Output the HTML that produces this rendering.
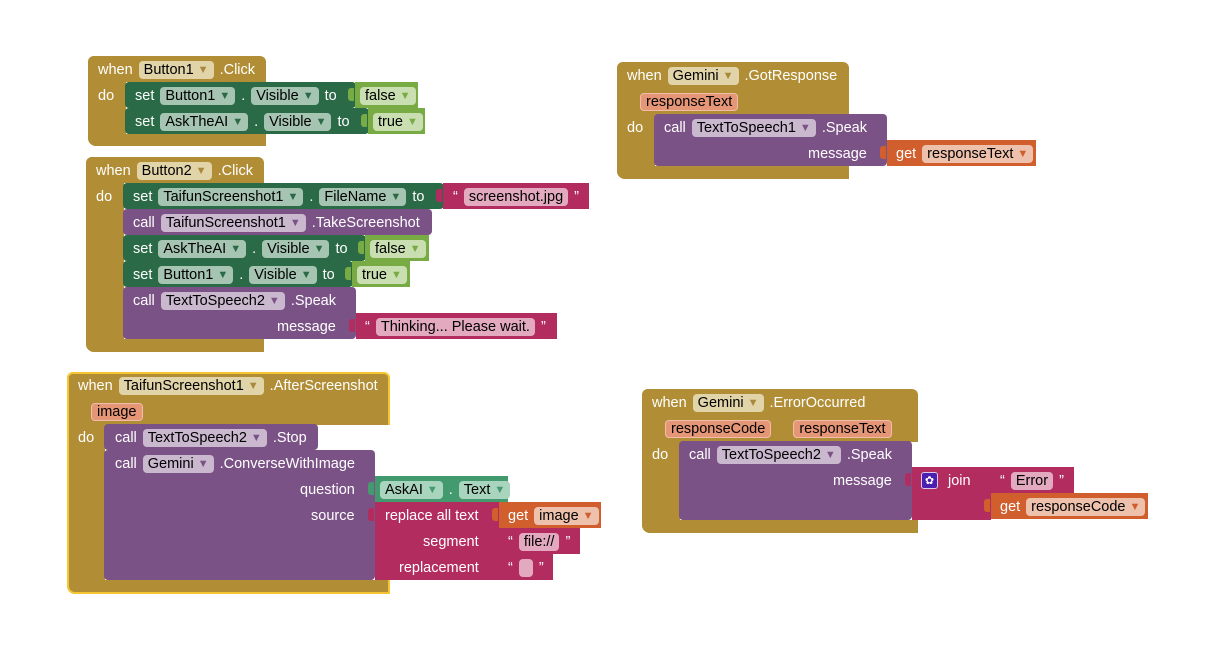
<!DOCTYPE html>
<html><head><meta charset="utf-8"><style>
body{margin:0;width:1212px;height:658px;background:#fff;position:relative;overflow:hidden;font-family:"Liberation Sans",sans-serif;}
.b{position:absolute;box-sizing:border-box;}
.g{background:#b18e35;border-radius:5px;}
.gr{background:#2a6a46;border-radius:4px;}
.lg{background:#78ab43;}
.p{background:#7b5286;border-radius:4px;}
.pk{background:#b22c5f;}
.o{background:#d05f2d;}
.t{background:#449a6f;}
.r{position:absolute;height:26px;padding-top:1px;box-sizing:border-box;display:flex;align-items:center;white-space:nowrap;color:#fff;font-size:14.5px;gap:6px;}
.f{color:#000;border-radius:4px;padding:0 5px;height:18px;line-height:18px;display:inline-flex;align-items:center;}
.f i{font-style:normal;font-size:11px;margin-left:4px;}
.fg{background:#e2d4a9}.fg i{color:#a8893a}
.fgr{background:#a6c4b2}.fgr i{color:#2a6a46}
.fp{background:#cab8ce}.fp i{color:#7b5286}
.fpk{background:#e2a9bf}
.fo{background:#edc1ac}.fo i{color:#d05f2d}
.flg{background:#c9dfb2}.flg i{color:#78ab43}
.ft{background:#a9d4bd}.ft i{color:#449a6f}
.prm{background:#e59677;border:1.5px solid #f2bda8;color:#000;border-radius:4px;padding:0 5px;height:16px;line-height:16px;display:inline-flex;align-items:center;}
.tab{position:absolute;width:6px;height:13px;border-radius:3px 0 0 3px;}
</style></head><body>

<!-- Block 1 -->
<div class="b g" style="left:88px;top:56px;width:178px;height:26px;border-radius:6px 6px 0 0"></div>
<div class="b g" style="left:88px;top:56px;width:38px;height:90px;border-radius:6px 0 0 8px"></div>
<div class="b g" style="left:88px;top:134px;width:178px;height:12px;border-radius:0 0 0 8px"></div>
<div class="r" style="left:98px;top:56px">when <span class="f fg">Button1<i>▼</i></span>.Click</div>
<div class="r" style="left:98px;top:82px">do</div>
<div class="b gr" style="left:125px;top:82px;width:231px;height:26px"></div>
<div class="b lg" style="left:355px;top:82px;width:63px;height:26px"></div>
<div class="tab" style="left:348px;top:88px;background:#78ab43"></div>
<div class="r" style="left:135px;top:82px">set <span class="f fgr">Button1<i>▼</i></span>.<span class="f fgr">Visible<i>▼</i></span> to</div>
<div class="r" style="left:360px;top:82px"><span class="f flg">false<i>▼</i></span></div>
<div class="b gr" style="left:125px;top:108px;width:244px;height:26px"></div>
<div class="b lg" style="left:368px;top:108px;width:57px;height:26px"></div>
<div class="tab" style="left:361px;top:114px;background:#78ab43"></div>
<div class="r" style="left:135px;top:108px">set <span class="f fgr">AskTheAI<i>▼</i></span>.<span class="f fgr">Visible<i>▼</i></span> to</div>
<div class="r" style="left:373px;top:108px"><span class="f flg">true<i>▼</i></span></div>

<!-- Block 2 -->
<div class="b g" style="left:86px;top:157px;width:178px;height:26px;border-radius:6px 6px 0 0"></div>
<div class="b g" style="left:86px;top:157px;width:38px;height:195px;border-radius:6px 0 0 8px"></div>
<div class="b g" style="left:86px;top:339px;width:178px;height:13px;border-radius:0 0 0 8px"></div>
<div class="r" style="left:96px;top:157px">when <span class="f fg">Button2<i>▼</i></span>.Click</div>
<div class="r" style="left:96px;top:183px">do</div>
<div class="b gr" style="left:123px;top:183px;width:321px;height:26px"></div>
<div class="b pk" style="left:443px;top:183px;width:146px;height:26px"></div>
<div class="tab" style="left:436px;top:189px;background:#b22c5f"></div>
<div class="r" style="left:133px;top:183px">set <span class="f fgr">TaifunScreenshot1<i>▼</i></span>.<span class="f fgr">FileName<i>▼</i></span> to</div>
<div class="r" style="left:453px;top:183px">“<span class="f fpk">screenshot.jpg</span>”</div>
<div class="b p" style="left:123px;top:209px;width:309px;height:26px"></div>
<div class="r" style="left:133px;top:209px">call <span class="f fp">TaifunScreenshot1<i>▼</i></span>.TakeScreenshot</div>
<div class="b gr" style="left:123px;top:235px;width:243px;height:26px"></div>
<div class="b lg" style="left:365px;top:235px;width:64px;height:26px"></div>
<div class="tab" style="left:358px;top:241px;background:#78ab43"></div>
<div class="r" style="left:133px;top:235px">set <span class="f fgr">AskTheAI<i>▼</i></span>.<span class="f fgr">Visible<i>▼</i></span> to</div>
<div class="r" style="left:370px;top:235px"><span class="f flg">false<i>▼</i></span></div>
<div class="b gr" style="left:123px;top:261px;width:230px;height:26px"></div>
<div class="b lg" style="left:352px;top:261px;width:58px;height:26px"></div>
<div class="tab" style="left:345px;top:267px;background:#78ab43"></div>
<div class="r" style="left:133px;top:261px">set <span class="f fgr">Button1<i>▼</i></span>.<span class="f fgr">Visible<i>▼</i></span> to</div>
<div class="r" style="left:357px;top:261px"><span class="f flg">true<i>▼</i></span></div>
<div class="b p" style="left:123px;top:287px;width:233px;height:52px"></div>
<div class="r" style="left:133px;top:287px">call <span class="f fp">TextToSpeech2<i>▼</i></span>.Speak</div>
<div class="r" style="left:277px;top:313px">message</div>
<div class="b pk" style="left:356px;top:313px;width:201px;height:26px"></div>
<div class="tab" style="left:349px;top:319px;background:#b22c5f"></div>
<div class="r" style="left:365px;top:313px">“<span class="f fpk">Thinking... Please wait.</span>”</div>

<!-- Block 3 -->
<div class="b g" style="left:67px;top:372px;width:323px;height:53px;border:2px solid #f5c631;border-bottom:none;border-radius:6px 6px 0 0"></div>
<div class="b g" style="left:67px;top:372px;width:38px;height:222px;border:2px solid #f5c631;border-right:none;border-radius:6px 0 0 8px"></div>
<div class="b g" style="left:67px;top:580px;width:323px;height:14px;border:2px solid #f5c631;border-top:none;border-radius:0 0 0 8px"></div>
<div class="b" style="left:69px;top:376px;width:38px;height:50px;background:#b18e35"></div>
<div class="r" style="left:78px;top:372px">when <span class="f fg">TaifunScreenshot1<i>▼</i></span>.AfterScreenshot</div>
<div class="r" style="left:91px;top:398px"><span class="prm">image</span></div>
<div class="r" style="left:78px;top:424px">do</div>
<div class="b p" style="left:104px;top:424px;width:214px;height:26px"></div>
<div class="r" style="left:115px;top:424px">call <span class="f fp">TextToSpeech2<i>▼</i></span>.Stop</div>
<div class="b p" style="left:104px;top:450px;width:271px;height:130px"></div>
<div class="r" style="left:115px;top:450px">call <span class="f fp">Gemini<i>▼</i></span>.ConverseWithImage</div>
<div class="r" style="left:300px;top:476px">question</div>
<div class="r" style="left:311px;top:502px">source</div>
<div class="b t" style="left:375px;top:476px;width:133px;height:26px"></div>
<div class="tab" style="left:368px;top:482px;background:#449a6f"></div>
<div class="r" style="left:380px;top:476px"><span class="f ft">AskAI<i>▼</i></span>.<span class="f ft">Text<i>▼</i></span></div>
<div class="b pk" style="left:375px;top:502px;width:124px;height:78px"></div>
<div class="tab" style="left:368px;top:508px;background:#b22c5f"></div>
<div class="r" style="left:385px;top:502px">replace all text</div>
<div class="r" style="left:423px;top:528px">segment</div>
<div class="r" style="left:399px;top:554px">replacement</div>
<div class="b o" style="left:499px;top:502px;width:102px;height:26px"></div>
<div class="tab" style="left:492px;top:508px;background:#d05f2d"></div>
<div class="r" style="left:508px;top:502px">get <span class="f fo">image<i>▼</i></span></div>
<div class="b pk" style="left:499px;top:528px;width:81px;height:26px"></div>
<div class="r" style="left:508px;top:528px">“<span class="f fpk">file://</span>”</div>
<div class="b pk" style="left:499px;top:554px;width:54px;height:26px"></div>
<div class="r" style="left:508px;top:554px">“<span class="f fpk" style="width:4px"></span>”</div>

<!-- Block 4 -->
<div class="b g" style="left:617px;top:62px;width:232px;height:53px;border-radius:6px 6px 0 0"></div>
<div class="b g" style="left:617px;top:62px;width:38px;height:117px;border-radius:6px 0 0 8px"></div>
<div class="b g" style="left:617px;top:166px;width:232px;height:13px;border-radius:0 0 0 8px"></div>
<div class="r" style="left:627px;top:62px">when <span class="f fg">Gemini<i>▼</i></span>.GotResponse</div>
<div class="r" style="left:640px;top:88px"><span class="prm">responseText</span></div>
<div class="r" style="left:627px;top:114px">do</div>
<div class="b p" style="left:654px;top:114px;width:233px;height:52px"></div>
<div class="r" style="left:664px;top:114px">call <span class="f fp">TextToSpeech1<i>▼</i></span>.Speak</div>
<div class="r" style="left:808px;top:140px">message</div>
<div class="b o" style="left:887px;top:140px;width:149px;height:26px"></div>
<div class="tab" style="left:880px;top:146px;background:#d05f2d"></div>
<div class="r" style="left:896px;top:140px">get <span class="f fo">responseText<i>▼</i></span></div>

<!-- Block 5 -->
<div class="b g" style="left:642px;top:389px;width:276px;height:53px;border-radius:6px 6px 0 0"></div>
<div class="b g" style="left:642px;top:389px;width:38px;height:144px;border-radius:6px 0 0 8px"></div>
<div class="b g" style="left:642px;top:520px;width:276px;height:13px;border-radius:0 0 0 8px"></div>
<div class="r" style="left:652px;top:389px">when <span class="f fg">Gemini<i>▼</i></span>.ErrorOccurred</div>
<div class="r" style="left:665px;top:415px;gap:22px"><span class="prm">responseCode</span><span class="prm">responseText</span></div>
<div class="r" style="left:652px;top:441px">do</div>
<div class="b p" style="left:679px;top:441px;width:233px;height:79px"></div>
<div class="r" style="left:689px;top:441px">call <span class="f fp">TextToSpeech2<i>▼</i></span>.Speak</div>
<div class="r" style="left:833px;top:467px">message</div>
<div class="b pk" style="left:912px;top:467px;width:79px;height:53px"></div>
<div class="tab" style="left:905px;top:473px;background:#b22c5f"></div>
<div class="b" style="left:921px;top:472px;width:17px;height:17px;background:#4b1fb0;border:1px solid #d9c8f0;border-radius:3px;color:#fff;font-size:11px;text-align:center;line-height:16px">✿</div>
<div class="r" style="left:948px;top:467px">join</div>
<div class="b pk" style="left:991px;top:467px;width:83px;height:26px"></div>
<div class="r" style="left:1000px;top:467px">“<span class="f fpk">Error</span>”</div>
<div class="b o" style="left:991px;top:493px;width:157px;height:26px"></div>
<div class="tab" style="left:984px;top:499px;background:#d05f2d"></div>
<div class="r" style="left:1000px;top:493px">get <span class="f fo">responseCode<i>▼</i></span></div>

</body></html>
